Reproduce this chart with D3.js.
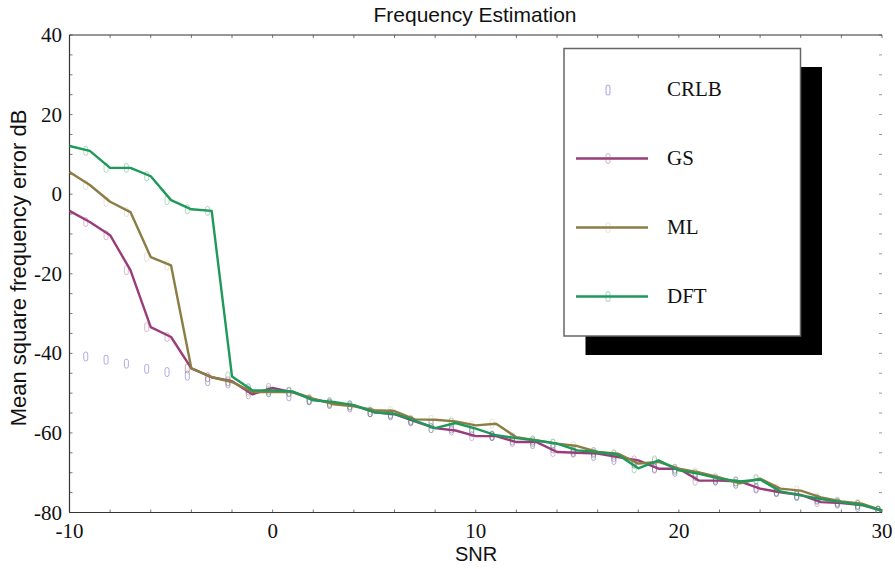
<!DOCTYPE html>
<html>
<head>
<meta charset="utf-8">
<script src="https://cdn.jsdelivr.net/npm/d3@7/dist/d3.min.js"></script>
<style>
  html, body { margin: 0; padding: 0; background: #fff; }
  svg { display: block; }
</style>
</head>
<body>
<svg id="chart" width="895" height="569"></svg>
<script>
// ---------- data ----------
const snr = [-10,-9,-8,-7,-6,-5,-4,-3,-2,-1,0,1,2,3,4,5,6,7,8,9,10,11,12,13,14,15,16,17,18,19,20,21,22,23,24,25,26,27,28,29,30];

const crlb = [-39.9,-40.8,-41.6,-42.6,-43.9,-44.7,-45.6,-47.0,-47.6,-48.8,-49.8,-50.8,-51.8,-52.7,-53.6,-54.8,-55.6,-56.9,-57.8,-58.9,-59.8,-60.8,-61.9,-62.8,-63.9,-64.8,-65.8,-66.8,-67.7,-68.8,-69.8,-70.8,-71.9,-72.8,-73.8,-74.8,-75.9,-76.8,-77.8,-78.6,-79.6];

const gs = [-4.2,-7.0,-10.3,-19.1,-33.4,-35.9,-43.8,-46.0,-47.0,-50.3,-48.7,-49.8,-51.6,-52.5,-53.1,-54.8,-55.3,-57.1,-58.8,-59.4,-60.8,-60.8,-62.3,-62.3,-64.8,-65.0,-65.2,-66.1,-66.9,-69.0,-69.0,-72.0,-72.0,-72.2,-74.0,-74.9,-75.6,-77.4,-77.6,-78.1,-79.5];

const ml = [5.6,2.3,-1.9,-4.5,-15.8,-17.9,-43.8,-46.0,-47.2,-49.7,-49.7,-49.7,-51.4,-52.8,-53.3,-54.3,-54.5,-56.6,-56.7,-57.1,-58.1,-57.7,-61.1,-61.9,-62.7,-63.3,-64.8,-65.2,-67.7,-67.3,-69.0,-69.9,-71.2,-72.7,-71.5,-74.0,-74.5,-76.2,-77.2,-77.8,-79.5];

const dft = [12.1,10.9,6.6,6.6,4.5,-1.5,-3.8,-4.2,-45.8,-49.3,-49.3,-49.6,-51.8,-52.2,-53.0,-54.8,-55.2,-56.9,-58.8,-57.5,-58.9,-60.6,-61.3,-61.9,-62.7,-64.4,-64.8,-65.5,-68.9,-66.9,-69.4,-70.3,-71.5,-72.2,-71.7,-74.7,-75.7,-76.6,-77.4,-78.1,-79.5];

const seriesNames = ["CRLB", "GS", "ML", "DFT"];
const seriesColors = ["#8c8cd6", "#993d7a", "#8c7d45", "#1f995a"];

const xTickValues = [-10, 0, 10, 20, 30];
const yTickValues = [40, 20, 0, -20, -40, -60, -80];

const titleText = "Frequency Estimation";
const xLabelText = "SNR";
const yLabelText = "Mean square frequency error dB";

// ---------- layout ----------
const svg = d3.select("#chart");
const pLeft = 69.5, pRight = 882, pTop = 35, pBottom = 512.5;

const x = d3.scaleLinear().domain([-10, 30]).range([pLeft, pRight]);
const y = d3.scaleLinear().domain([-80, 40]).range([pBottom, pTop]);
// markers in the reference sit slightly left of the line vertices
const xm = d3.scaleLinear().domain([-10, 30]).range([x(-10.2), x(29.8)]);

const serif = "'Liberation Serif','Times New Roman',serif";
const sans = "'Liberation Sans',Arial,sans-serif";

svg.append("defs").append("clipPath").attr("id", "plotclip")
  .append("rect").attr("x", pLeft + 1).attr("y", pTop).attr("width", pRight - pLeft + 10).attr("height", pBottom - pTop);

// minor ticks
const g = svg.append("g");
const minorX = d3.range(-10, 31, 2);
const minorY = d3.range(-80, 41, 5);
g.append("g").selectAll("line").data(minorX).join("line")
  .attr("x1", d => x(d)).attr("x2", d => x(d))
  .attr("y1", pBottom).attr("y2", pBottom - 3)
  .attr("stroke", "#777").attr("stroke-width", 1);
g.append("g").selectAll("line").data(minorX).join("line")
  .attr("x1", d => x(d)).attr("x2", d => x(d))
  .attr("y1", pTop).attr("y2", pTop + 3)
  .attr("stroke", "#777").attr("stroke-width", 1);
g.append("g").selectAll("line").data(minorY).join("line")
  .attr("x1", pLeft).attr("x2", pLeft + 3)
  .attr("y1", d => y(d)).attr("y2", d => y(d))
  .attr("stroke", "#777").attr("stroke-width", 1);
g.append("g").selectAll("line").data(minorY).join("line")
  .attr("x1", pRight - 3).attr("x2", pRight)
  .attr("y1", d => y(d)).attr("y2", d => y(d))
  .attr("stroke", "#999").attr("stroke-width", 1);

// frame lines (left, bottom, top)
g.append("line").attr("x1", pLeft).attr("x2", pLeft).attr("y1", pTop).attr("y2", pBottom)
  .attr("stroke", "#333").attr("stroke-width", 1.2);
g.append("line").attr("x1", pLeft).attr("x2", pRight).attr("y1", pBottom).attr("y2", pBottom)
  .attr("stroke", "#333").attr("stroke-width", 1.2);
g.append("line").attr("x1", pLeft).attr("x2", pRight).attr("y1", pTop).attr("y2", pTop)
  .attr("stroke", "#333").attr("stroke-width", 1.2);

// tick labels
svg.append("g").selectAll("text").data(yTickValues).join("text")
  .attr("x", 62).attr("y", d => y(d))
  .attr("text-anchor", "end").attr("dominant-baseline", "central")
  .attr("font-family", serif).attr("font-size", 21).attr("fill", "#111")
  .text(d => d);
svg.append("g").selectAll("text").data(xTickValues).join("text")
  .attr("x", d => x(d)).attr("y", 531)
  .attr("text-anchor", "middle").attr("dominant-baseline", "central")
  .attr("font-family", serif).attr("font-size", 21).attr("fill", "#111")
  .text(d => d);

// titles
svg.append("text").attr("x", 475).attr("y", 14)
  .attr("text-anchor", "middle").attr("dominant-baseline", "central")
  .attr("font-family", sans).attr("font-size", 21).attr("fill", "#111")
  .text(titleText);
svg.append("text").attr("x", 476).attr("y", 554)
  .attr("text-anchor", "middle").attr("dominant-baseline", "central")
  .attr("font-family", sans).attr("font-size", 20).attr("fill", "#111")
  .text(xLabelText);
svg.append("text")
  .attr("transform", "translate(18,268) rotate(-90)")
  .attr("text-anchor", "middle").attr("dominant-baseline", "central")
  .attr("font-family", sans).attr("font-size", 22).attr("fill", "#111")
  .text(yLabelText);

// ---------- series ----------
const lineSeries = [
  { name: "GS", values: gs, color: seriesColors[1] },
  { name: "ML", values: ml, color: seriesColors[2] },
  { name: "DFT", values: dft, color: seriesColors[3] }
];

const line = d3.line().x((d, i) => x(snr[i])).y(d => y(d));

const plot = svg.append("g").attr("clip-path", "url(#plotclip)");

// markers (faint rounded rectangles)
function drawMarkers(values, color, op) {
  plot.append("g").selectAll("rect").data(snr).join("rect")
    .attr("x", d => xm(d) - 2)
    .attr("y", (d, i) => y(values[i]) - 4.5)
    .attr("width", 4).attr("height", 9).attr("rx", 2)
    .attr("fill", "none").attr("stroke", color)
    .attr("stroke-width", 1).attr("opacity", op);
}

drawMarkers(crlb, seriesColors[0], 0.7);
lineSeries.forEach(s => {
  drawMarkers(s.values, s.color, s.name === "ML" ? 0.2 : 0.35);
});

lineSeries.forEach(s => {
  svg.append("path").datum(s.values)
    .attr("d", line)
    .attr("fill", "none").attr("stroke", s.color)
    .attr("stroke-width", 2.4).attr("stroke-linejoin", "round");
});

// ---------- legend ----------
const lg = svg.append("g");
lg.append("rect").attr("x", 585.5).attr("y", 67).attr("width", 236.5).attr("height", 288)
  .attr("fill", "#000");
lg.append("rect").attr("x", 564).attr("y", 48.5).attr("width", 236.5).attr("height", 287.5)
  .attr("fill", "#fff").attr("stroke", "#666").attr("stroke-width", 1.5);

const legendY = [90, 158.5, 227.5, 296.5];
seriesNames.forEach((name, i) => {
  const ly = legendY[i];
  if (i > 0) {
    lg.append("line").attr("x1", 576).attr("x2", 648).attr("y1", ly).attr("y2", ly)
      .attr("stroke", seriesColors[i]).attr("stroke-width", 2.4);
  }
  lg.append("rect").attr("x", 606).attr("y", ly - 5).attr("width", 4).attr("height", 10).attr("rx", 2)
    .attr("fill", "none").attr("stroke", seriesColors[i]).attr("stroke-width", 1)
    .attr("opacity", i === 0 ? 0.8 : (i === 2 ? 0.2 : 0.4));
  lg.append("text").attr("x", 667).attr("y", ly - 1)
    .attr("dominant-baseline", "central")
    .attr("font-family", serif).attr("font-size", 21).attr("fill", "#111")
    .text(name);
});
</script>
</body>
</html>
